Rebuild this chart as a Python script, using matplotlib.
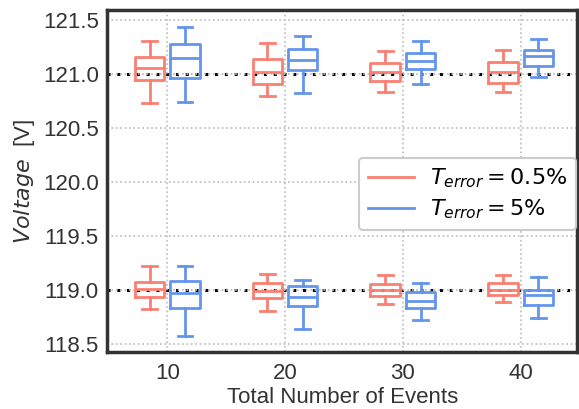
import numpy as np
import matplotlib
matplotlib.use("Agg")
import matplotlib.pyplot as plt
from matplotlib.lines import Line2D

# x positions (total number of events)
events = [10, 20, 30, 40]

# box stats: whislo, q1, median, q3, whishi
# T_error = 0.5 %, group around 121 V
red_hi = {
    'whislo': [120.73, 120.79, 120.83, 120.83],
    'q1':     [120.94, 120.90, 120.93, 120.91],
    'med':    [121.05, 121.01, 121.015, 121.015],
    'q3':     [121.15, 121.13, 121.10, 121.11],
    'whishi': [121.30, 121.28, 121.21, 121.22],
}
# T_error = 5 %, group around 121 V
blue_hi = {
    'whislo': [120.74, 120.82, 120.90, 120.97],
    'q1':     [120.96, 121.03, 121.04, 121.07],
    'med':    [121.14, 121.125, 121.12, 121.16],
    'q3':     [121.27, 121.23, 121.19, 121.22],
    'whishi': [121.43, 121.35, 121.30, 121.32],
}
# T_error = 0.5 %, group around 119 V
red_lo = {
    'whislo': [118.82, 118.80, 118.87, 118.88],
    'q1':     [118.93, 118.92, 118.94, 118.95],
    'med':    [119.005, 118.99, 119.00, 119.00],
    'q3':     [119.07, 119.06, 119.05, 119.06],
    'whishi': [119.22, 119.14, 119.13, 119.13],
}
# T_error = 5 %, group around 119 V
blue_lo = {
    'whislo': [118.57, 118.63, 118.72, 118.74],
    'q1':     [118.83, 118.85, 118.83, 118.86],
    'med':    [118.97, 118.93, 118.89, 118.95],
    'q3':     [119.08, 119.03, 118.98, 119.00],
    'whishi': [119.22, 119.09, 119.06, 119.12],
}
ref_levels = [121.0, 119.0]

RED = '#FA8072'
BLUE = '#6495ED'

plt.rcParams['font.family'] = ['Liberation Sans', 'DejaVu Sans']

fig = plt.figure(figsize=(5.79, 4.09), dpi=100)
ax = fig.add_axes([0.185, 0.139, 0.812, 0.837])


def to_stats(d):
    out = []
    for i in range(len(events)):
        out.append({k: d[k][i] for k in ('whislo', 'q1', 'med', 'q3', 'whishi')} | {'fliers': []})
    return out


def draw(d, offset, color):
    pos = [e + offset for e in events]
    props = dict(color=color, linewidth=2)
    ax.bxp(to_stats(d), positions=pos, widths=2.5, showfliers=False,
           boxprops=props, whiskerprops=props, capprops=props,
           medianprops=props, manage_ticks=False)


draw(red_hi, -1.5, RED)
draw(blue_hi, 1.5, BLUE)
draw(red_lo, -1.5, RED)
draw(blue_lo, 1.5, BLUE)

for lvl in ref_levels:
    ax.axhline(lvl, color='black', linestyle=(0, (1, 2.2)), linewidth=2.2, zorder=0.5)

ax.set_xlim(4.9, 44.8)
ax.set_ylim(118.42, 121.59)
ax.set_xticks(events)
ax.set_yticks(np.arange(118.5, 121.51, 0.5))
ax.set_yticklabels([f'{v:.1f}' for v in np.arange(118.5, 121.51, 0.5)])
ax.tick_params(axis='y', labelsize=16, length=0, pad=6, colors='#333333')
ax.tick_params(axis='x', labelsize=16, length=0, pad=8, colors='#333333')
ax.grid(True, linestyle=':', color='#bbbbbb', linewidth=1.2)
ax.set_axisbelow(True)
for s in ax.spines.values():
    s.set_color('#333333')
    s.set_linewidth(2.5)

ax.set_xlabel('Total Number of Events', fontsize=16, color='#333333', labelpad=2)
ax.set_ylabel(r'$Voltage$  [V]', fontsize=16, color='#333333', labelpad=4)

handles = [Line2D([0], [0], color=RED, linewidth=2),
           Line2D([0], [0], color=BLUE, linewidth=2)]
leg = ax.legend(handles, [r'$T_{error} = 0.5\%$', r'$T_{error} = 5\%$'],
                loc='center right', bbox_to_anchor=(1.0, 0.462), borderaxespad=0.05,
                fontsize=16, frameon=True, fancybox=True, edgecolor='#cccccc',
                framealpha=1, handlelength=2.1, handletextpad=0.7,
                borderpad=0.4, labelspacing=0.35)
leg.get_frame().set_linewidth(1.5)

fig.savefig('out.png', dpi=100)
